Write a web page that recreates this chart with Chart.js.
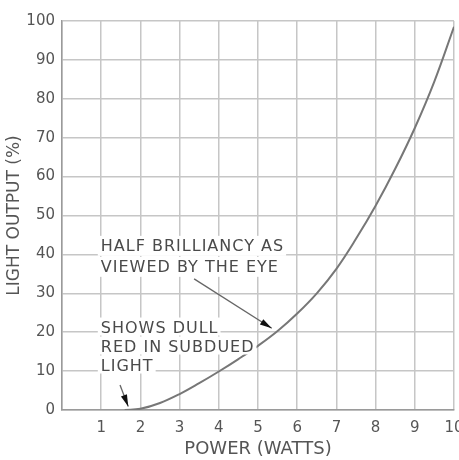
<!DOCTYPE html>
<html>
<head>
<meta charset="utf-8">
<script src="https://cdn.jsdelivr.net/npm/chart.js@4/dist/chart.umd.min.js"></script>
<style>
  html, body { margin: 0; padding: 0; background: #fff; }
  #wrap { width: 459px; height: 460px; position: relative; }
</style>
</head>
<body>
<div id="wrap"><canvas id="c" width="459" height="460"></canvas></div>
<script>
// ---- data ----
const powerWatts = [1.6, 2.0, 2.5, 3.0, 3.5, 4.0, 4.5, 5.0, 5.5, 6.0, 6.5, 7.0, 7.5, 8.0, 8.5, 9.0, 9.5, 10.0];
const lightOutput = [0, 0.3, 1.8, 4.1, 6.9, 9.9, 13.1, 16.5, 20.3, 24.8, 30, 36.3, 44, 52.5, 62, 72.5, 84.5, 98.5];
const xTickLabels = ['', '1', '2', '3', '4', '5', '6', '7', '8', '9', '10'];
const yTickLabels = ['0', '10', '20', '30', '40', '50', '60', '70', '80', '90', '100'];
const xTitle = 'POWER (WATTS)';
const yTitle = 'LIGHT OUTPUT (%)';
const noteHalfLines = ['HALF BRILLIANCY AS', 'VIEWED BY THE EYE'];
const noteDullLines = ['SHOWS DULL', 'RED IN SUBDUED', 'LIGHT'];
// annotation anchors in data units: text top-left, arrow start, arrow tip
const noteHalfAnchor = { textX: 0.99, textY: 44, fromX: 3.37, fromY: 33.7, toX: 5.35, toY: 21 };
const noteDullAnchor = { textX: 0.99, textY: 23, fromX: 1.48, fromY: 6.4, toX: 1.69, toY: 0.9 };

const FONT = '"DejaVu Sans", sans-serif';
const INK = '#4a4a4a';

const annotations = {
  id: 'notes',
  afterDatasetsDraw(chart) {
    const ctx = chart.ctx;
    const xs = chart.scales.x, ys = chart.scales.y;
    const drawNote = (lines, a, lineGap) => {
      ctx.save();
      ctx.font = '16px ' + FONT;
      try { ctx.letterSpacing = '1px'; } catch (e) {}
      ctx.textBaseline = 'top';
      ctx.textAlign = 'left';
      const x0 = xs.getPixelForValue(a.textX);
      const y0 = ys.getPixelForValue(a.textY);
      lines.forEach((t, i) => {
        const w = ctx.measureText(t).width;
        ctx.fillStyle = '#fff';
        ctx.fillRect(x0 - 3, y0 + i * lineGap - 3, w + 5, lineGap - 1);
      });
      ctx.fillStyle = INK;
      lines.forEach((t, i) => ctx.fillText(t, x0, y0 + i * lineGap));
      // arrow
      const fx = xs.getPixelForValue(a.fromX), fy = ys.getPixelForValue(a.fromY);
      const tx = xs.getPixelForValue(a.toX), ty = ys.getPixelForValue(a.toY);
      ctx.strokeStyle = '#666';
      ctx.lineWidth = 1.3;
      ctx.beginPath(); ctx.moveTo(fx, fy); ctx.lineTo(tx, ty); ctx.stroke();
      const ang = Math.atan2(ty - fy, tx - fx);
      const L = 12, W = 3.2;
      ctx.fillStyle = '#111';
      ctx.beginPath();
      ctx.moveTo(tx, ty);
      ctx.lineTo(tx - L * Math.cos(ang) + W * Math.sin(ang), ty - L * Math.sin(ang) - W * Math.cos(ang));
      ctx.lineTo(tx - L * Math.cos(ang) - W * Math.sin(ang), ty - L * Math.sin(ang) + W * Math.cos(ang));
      ctx.closePath();
      ctx.fill();
      ctx.restore();
    };
    drawNote(noteHalfLines, noteHalfAnchor, 21);
    drawNote(noteDullLines, noteDullAnchor, 19);
  }
};

new Chart(document.getElementById('c'), {
  type: 'line',
  data: {
    datasets: [{
      data: powerWatts.map((x, i) => ({ x, y: lightOutput[i] })),
      borderColor: '#777',
      borderWidth: 2,
      pointRadius: 0,
      fill: false,
      tension: 0.4
    }]
  },
  options: {
    responsive: false,
    animation: false,
    events: [],
    layout: { padding: { top: 21, right: 5, left: 0, bottom: 0 } },
    plugins: { legend: { display: false }, tooltip: { enabled: false } },
    scales: {
      x: {
        type: 'linear', min: 0, max: 10,
        afterFit(s) { s.height = 50; s.paddingLeft = 0; s.paddingRight = 0; },
        ticks: {
          stepSize: 1, autoSkip: false, maxRotation: 0, padding: 9,
          color: '#555', font: { family: FONT, size: 15 },
          callback: (v) => xTickLabels[Math.round(v)] ?? ''
        },
        grid: { color: '#c6c6c6', lineWidth: 1.5, drawTicks: false },
        border: { display: true, color: '#9a9a9a', width: 1.5 },
        title: { display: true, text: xTitle, color: '#555', font: { family: FONT, size: 18 }, padding: { top: 0, bottom: 0 } }
      },
      y: {
        min: 0, max: 100,
        afterFit(s) { s.width = 62; s.paddingTop = 0; s.paddingBottom = 0; },
        ticks: {
          stepSize: 10, autoSkip: false, padding: 7,
          color: '#555', font: { family: FONT, size: 15 },
          callback: (v) => yTickLabels[Math.round(v / 10)] ?? ''
        },
        grid: { color: '#c6c6c6', lineWidth: 1.5, drawTicks: false },
        border: { display: true, color: '#9a9a9a', width: 1.5 },
        title: { display: true, text: yTitle, color: '#555', font: { family: FONT, size: 17 }, padding: { top: 4, bottom: 0 } }
      }
    }
  },
  plugins: [annotations]
});
</script>
</body>
</html>
